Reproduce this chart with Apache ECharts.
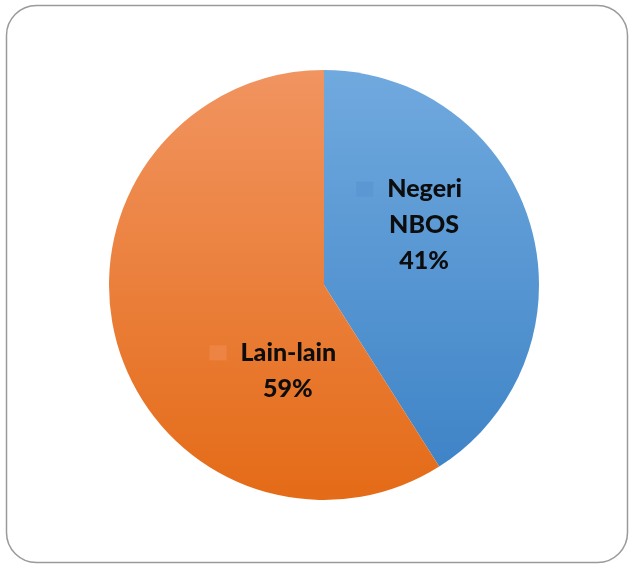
<!DOCTYPE html>
<html>
<head>
<meta charset="utf-8">
<script src="https://cdn.jsdelivr.net/npm/echarts@6/dist/echarts.min.js"></script>
<style>
  html, body { margin: 0; padding: 0; background: #fff; }
  #chart { width: 633px; height: 565px; }
</style>
</head>
<body>
<div id="chart"></div>
<script>
// Share of schools by category
const categories = ['Negeri NBOS', 'Lain-lain'];
const labelLines = [['Negeri', 'NBOS'], ['Lain-lain']];
const values = [41, 59];
const topColors = ['#70a9de', '#f19460'];
const bottomColors = ['#3f84c7', '#e46b17'];
const keyColors = ['#5b97d3', '#ee8444'];
const labelOffsets = [[-6, -29], [70, 55]];

const chart = echarts.init(document.getElementById('chart'));

function grad(i) {
  return new echarts.graphic.LinearGradient(0, 0, 0, 1, [
    { offset: 0, color: topColors[i] },
    { offset: 1, color: bottomColors[i] }
  ]);
}

// Label: key square + gap before the first line, balanced by a spacer after it
function labelText(i) {
  const first = '{key' + i + '|}{gap|}{t|' + labelLines[i][0] + '}{pad|}';
  const rest = labelLines[i].slice(1).map(s => '{t|' + s + '}');
  return [first].concat(rest).concat(['{t|' + values[i] + '%}']).join('\n');
}

const data = categories.map((name, i) => ({
  name: name,
  value: values[i],
  itemStyle: { color: grad(i) },
  label: { formatter: labelText(i), offset: labelOffsets[i] }
}));

chart.setOption({
  animation: false,
  backgroundColor: '#ffffff',
  graphic: [{
    type: 'rect',
    shape: { x: 6.5, y: 5.5, width: 621, height: 557, r: 30 },
    style: { fill: 'none', stroke: '#9a9a9a', lineWidth: 1.5 },
    silent: true
  }],
  series: [{
    type: 'pie',
    center: [324, 285],
    radius: [0, 215],
    startAngle: 90,
    clockwise: true,
    data: data,
    itemStyle: { borderWidth: 0 },
    label: {
      show: true,
      position: 'inside',
      align: 'center',
      rich: {
        t: { fontFamily: 'Lato', fontWeight: 900, fontSize: 25, color: '#0d0d0d', lineHeight: 36 },
        gap: { width: 14 },
        pad: { width: 30 },
        key0: { width: 17, height: 15, backgroundColor: keyColors[0] },
        key1: { width: 17, height: 15, backgroundColor: keyColors[1] }
      }
    },
    labelLine: { show: false },
    emphasis: { disabled: true }
  }]
});
</script>
</body>
</html>
